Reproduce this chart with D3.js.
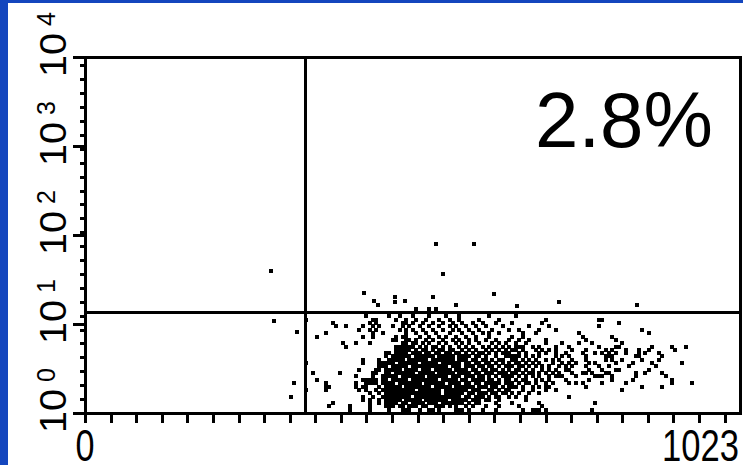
<!DOCTYPE html>
<html><head><meta charset="utf-8">
<script src="https://cdn.jsdelivr.net/npm/d3@7"></script>
<style>html,body{margin:0;padding:0;background:#fff;overflow:hidden}</style>
</head><body>
<svg id="c" width="743" height="465"></svg>
<script>
// ---- data (channels, 0-1023; y channels are 4-decade log channels) ----
const xTickLabels = ["0", "1023"];
const yDecadeExponents = ["0", "1", "2", "3", "4"];
const quadrantLabel = "2.8%";
const gateFL1 = 344;
const gateFL2 = 290;

// FL2 channel levels of the dot rows, bottom to top
const fl2Levels = [9, 19, 28, 38, 47, 57, 67, 76, 86, 95, 105, 115, 124, 134, 143, 153, 163, 172, 182, 191, 201, 211, 220, 230, 239, 249, 259, 268, 278];
// FL1 channels of the events found on each of those levels
const fl1ByLevel = [
 [414,445,476,497,502,507,523,538,544,554,580,585,590,601,622,642,684,700,705,710,720,793],
 [382,414,445,471,476,481,492,497,507,512,518,528,533,549,554,559,570,580,596,606,627,648,679,715],
 [388,445,460,471,476,481,486,497,502,512,518,523,528,538,544,549,559,564,570,575,580,585,590,601,611,616,642,668,710,798],
 [434,445,460,471,476,481,486,492,502,507,512,518,523,533,538,544,549,554,559,564,575,580,585,590,596,606,611,616,627,632,648,689],
 [434,450,466,471,476,481,486,492,497,502,507,518,523,528,533,538,544,549,554,559,564,570,575,580,585,596,601,611,616,622,632,642,648,663,674,689,757],
 [445,460,471,476,481,486,492,497,502,507,512,518,523,528,533,538,544,549,554,564,570,575,580,585,590,601,606,616,622,627,637,642,653,658,668,679,694,710],
 [346,377,429,440,455,466,471,476,481,486,492,497,502,507,512,523,528,533,538,544,549,554,564,570,575,580,585,590,596,606,611,616,632,637,648,658,663,684,700,720,736,840],
 [377,382,424,434,440,460,471,476,481,486,492,502,507,512,518,523,528,533,538,549,554,559,564,570,580,585,590,596,601,606,616,622,627,637,642,653,663,668,674,684,700,710,720,726,783,871,902],
 [377,424,440,445,450,455,466,471,476,481,492,497,502,507,512,518,523,533,538,544,549,554,559,570,575,580,585,596,601,611,616,627,632,637,642,648,658,663,668,679,689,694,705,720,731,757,767,778,809,845,918,949],
 [362,434,440,445,450,455,466,471,481,486,492,497,502,512,518,523,528,533,538,544,549,559,564,570,575,580,590,596,606,611,616,622,632,637,648,658,663,674,684,689,705,715,726,752,788,824,856,918],
 [424,450,466,471,476,481,486,497,502,507,512,518,523,528,538,544,549,554,559,564,575,580,585,596,601,606,616,622,632,642,653,658,663,668,679,689,700,710,726,736,741,746,767,798,804,809,824,861,908],
 [356,398,450,455,471,476,486,492,497,502,507,512,523,528,533,538,544,554,559,564,570,575,585,590,596,601,611,616,627,632,637,648,653,658,668,674,684,694,700,710,720,731,741,762,778,783,793,814,819,861,876,902],
 [429,455,460,471,476,481,486,492,502,507,512,518,528,533,538,549,554,559,564,570,580,585,590,596,606,611,622,627,637,642,653,663,674,679,689,700,715,726,736,752,757,788,809,830,835,882],
 [460,466,471,481,486,492,497,502,512,518,523,528,533,538,544,549,554,559,564,575,580,585,596,601,606,616,622,632,637,648,658,663,668,679,684,694,705,715,726,741,752,762,783,804,819,850,892],
 [346,434,460,466,471,476,481,492,497,502,507,512,518,528,533,538,544,549,559,564,570,575,580,585,596,601,611,616,627,632,642,653,663,674,679,689,700,710,731,746,757,767,788,798,830,856,887,934],
 [434,460,476,481,486,492,497,507,512,518,523,528,533,544,549,554,559,564,570,575,585,590,596,606,611,622,627,637,648,653,668,674,684,694,705,720,731,741,762,783,814,824,840,871,897],
 [471,481,486,492,497,502,507,518,523,528,533,538,544,554,559,564,570,575,585,590,596,601,611,616,627,642,658,663,668,674,679,689,700,710,736,746,757,783,814,819,824,861,866,902],
 [471,476,486,492,497,502,512,518,523,533,538,549,554,564,570,580,585,596,606,616,622,632,642,653,658,663,679,689,710,720,736,752,778,798,809,819,830,845,866,876,897],
 [486,492,497,502,507,518,528,533,544,554,559,570,575,590,601,611,627,637,648,658,668,674,684,705,715,726,736,762,783,814,824,845,866,882,923],
 [408,486,492,497,502,507,512,523,533,544,549,559,570,585,596,606,622,632,642,653,663,674,679,684,700,710,736,757,804,830,835,887,918,939],
 [403,424,445,497,502,512,518,528,538,554,564,580,590,601,616,637,648,658,674,689,720,746,772,793,840],
 [481,486,502,507,518,533,544,559,575,585,601,611,627,642,663,679,694,720,783,830],
 [362,434,450,486,497,502,523,538,554,564,580,596,611,632,668,684,778,824],
 [377,450,466,502,518,533,549,570,590,606,622,632,648,684,705,772,882],
 [429,445,455,492,502,512,528,544,559,575,585,601,616,637,663,679,710,736,871],
 [393,408,434,450,460,481,497,507,523,538,554,570,580,596,611,627,653,694,726,804],
 [388,445,455,497,502,512,528,544,559,575,590,606,622,642,668,715,835],
 [346,450,455,486,502,518,533,554,570,585,616,648,720,804,809],
 [440,476,492,512,538,564,585,632,674]
];
// isolated events (upper quadrants and lower-left quadrant)
const sparseFL1 = [291,549,608,560,436,452,458,485,485,500,517,544,549,580,639,675,741,863,538,296,331,327,322];
const sparseFL2 = [408,486,486,400,345,322,311,334,319,322,299,334,299,311,342,308,319,311,299,265,233,86,46];

// ---- drawing ----
const svg = d3.select("#c");
svg.append("rect").attr("x",0).attr("y",0).attr("width",743).attr("height",465).attr("fill","#fff");
svg.append("rect").attr("x",0).attr("y",0).attr("width",8).attr("height",465).attr("fill","#1446be");
svg.append("rect").attr("x",0).attr("y",0).attr("width",743).attr("height",3).attr("fill","#1446be");

const x = d3.scaleLinear().domain([0, 1024]).range([85, 740]);
const y = d3.scaleLinear().domain([0, 1024]).range([413, 57]);

// events
const events = [];
fl2Levels.forEach((lv, i) => fl1ByLevel[i].forEach(c => events.push([c, lv])));
sparseFL1.forEach((c, i) => events.push([c, sparseFL2[i]]));
const ds = 4;
svg.append("g").attr("shape-rendering","crispEdges")
  .selectAll("rect").data(events).join("rect")
  .attr("x", d => Math.round(x(d[0]) - ds/2)).attr("y", d => Math.round(y(d[1]) - ds/2))
  .attr("width", ds).attr("height", ds).attr("fill", "#000");

const lw = 3;
const lines = svg.append("g").attr("shape-rendering","crispEdges");
function line(x1,y1,x2,y2){
  lines.append("line").attr("x1",x1).attr("y1",y1).attr("x2",x2).attr("y2",y2)
    .attr("stroke","#000").attr("stroke-width",lw);
}
// gates
line(x(gateFL1), y(1024), x(gateFL1), y(0));
line(x(0), y(gateFL2), x(1024), y(gateFL2));
// frame
line(x(0)-12, y(1024), x(1024)+1.5, y(1024));
line(x(1024), y(1024)-1.5, x(1024), y(0)+1.5);
line(x(0)-12, y(0), x(1024)+1.5, y(0));
line(x(0), y(1024)-1.5, x(0), y(0)+10);

// x axis ticks
const xAxis = d3.axisBottom(x).tickValues(d3.range(0, 1001, 40)).tickSize(10).tickSizeOuter(0).tickFormat("");
const gx = svg.append("g").attr("shape-rendering","crispEdges").attr("transform", `translate(0,${y(0)})`).call(xAxis);
gx.select(".domain").remove();
gx.selectAll(".tick line").attr("stroke","#000").attr("stroke-width",lw);

// y axis minor + major ticks
const yMinor = d3.axisLeft(y).tickValues(d3.range(0, 1001, 40)).tickSize(5).tickSizeOuter(0).tickFormat("");
const gy = svg.append("g").attr("shape-rendering","crispEdges").attr("transform", `translate(${x(0)},0)`).call(yMinor);
gy.select(".domain").remove();
gy.selectAll(".tick line").attr("stroke","#000").attr("stroke-width",lw);
const yMajor = d3.axisLeft(y).tickValues(yDecadeExponents.map((e,i)=>i*256)).tickSize(12).tickSizeOuter(0).tickFormat("");
const gy2 = svg.append("g").attr("shape-rendering","crispEdges").attr("transform", `translate(${x(0)},0)`).call(yMajor);
gy2.select(".domain").remove();
gy2.selectAll(".tick line").attr("stroke","#000").attr("stroke-width",lw);

const font = "'Liberation Sans', Arial, sans-serif";
// x labels
svg.append("text").attr("x", x(0)).attr("y", 461).attr("text-anchor","middle")
  .attr("font-family", font).attr("font-size", 44)
  .attr("textLength", 19).attr("lengthAdjust","spacingAndGlyphs").text(xTickLabels[0]);
svg.append("text").attr("x", 662).attr("y", 461)
  .attr("font-family", font).attr("font-size", 44)
  .attr("textLength", 77).attr("lengthAdjust","spacingAndGlyphs").text(xTickLabels[1]);

// y labels (rotated)
yDecadeExponents.forEach((e, i) => {
  const t = svg.append("text")
    .attr("transform", `translate(66,${y(i*256)+20}) rotate(-90)`)
    .attr("font-family", font).attr("font-size", 37.7);
  t.append("tspan").attr("textLength", 44).attr("lengthAdjust","spacingAndGlyphs").text("10");
  t.append("tspan").attr("dx", 7).attr("dy", -11).attr("font-size", 25).text(e);
});

// quadrant percentage
svg.append("text").attr("x", 535).attr("y", 147)
  .attr("font-family", font).attr("font-size", 78).attr("fill","#000").text(quadrantLabel);
</script>
</body></html>
